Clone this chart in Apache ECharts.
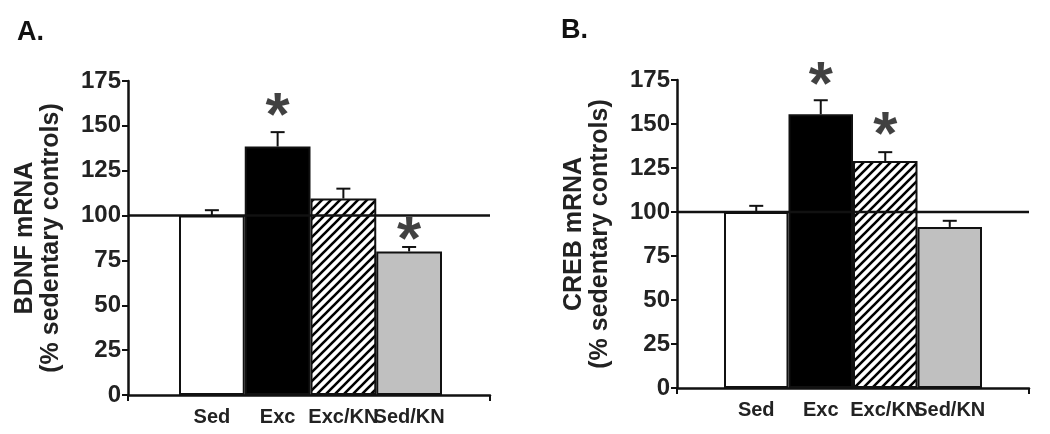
<!DOCTYPE html>
<html>
<head>
<meta charset="utf-8">
<script src="https://cdn.jsdelivr.net/npm/echarts@6/dist/echarts.min.js"></script>
<style>
  html, body { margin: 0; padding: 0; background: #fff; }
  #chart { width: 1050px; height: 434px; }
</style>
</head>
<body>
<div id="chart"></div>
<script>
// 数据
const groups = ['Sed', 'Exc', 'Exc/KN', 'Sed/KN']
const bdnfMean = [100, 138.5, 109.5, 80]
const bdnfErr = [103, 146.5, 115, 82.5]
const bdnfStar = [null, 161, null, 92]
const crebMean = [100, 155.5, 129, 91.5]
const crebErr = [103.5, 163.5, 134, 95]
const crebStar = [null, 178, 149.5, null]
const refLine = 100
const yTicks = [0, 175, 25]   // min, max, interval

const font = 'Liberation Sans, Arial, sans-serif'

// 斜线填充
function hatch() {
  const c = document.createElement('canvas')
  c.width = c.height = 9
  const g = c.getContext('2d')
  g.fillStyle = '#fff'
  g.fillRect(0, 0, 9, 9)
  g.strokeStyle = '#000'
  g.lineWidth = 2.6
  g.beginPath()
  for (const o of [-9, 0, 9]) {
    g.moveTo(o - 1, 10)
    g.lineTo(o + 10, -1)
  }
  g.stroke()
  return c
}
const fills = ['#ffffff', '#000000', { image: hatch(), repeat: 'repeat' }, '#c0c0c0']

function errRender(params, api) {
  const p0 = api.coord([api.value(0), api.value(1)])
  const p1 = api.coord([api.value(0), api.value(2)])
  const st = { stroke: '#111', lineWidth: 2 }
  return {
    type: 'group',
    children: [
      { type: 'line', shape: { x1: p0[0], y1: p0[1], x2: p1[0], y2: p1[1] }, style: st },
      { type: 'line', shape: { x1: p1[0] - 7, y1: p1[1], x2: p1[0] + 7, y2: p1[1] }, style: st }
    ]
  }
}

// 一个面板：外框网格(坐标轴) + 柱子网格
function panel(k, frame, bars, yName, mean, err, star) {
  const g0 = k * 2, g1 = k * 2 + 1
  return {
    grid: [frame, bars],
    xAxis: [
      {
        gridIndex: g0, type: 'value', min: 0, max: 1, interval: 1,
        axisLine: { show: true, onZero: false, lineStyle: { color: '#111', width: 2.5 } },
        axisTick: { show: true, length: 6, lineStyle: { color: '#111', width: 2 } },
        axisLabel: { show: false }, splitLine: { show: false }
      },
      {
        gridIndex: g1, type: 'category', data: groups,
        axisLine: { show: false }, axisTick: { show: false },
        axisLabel: { interval: 0, margin: 12, color: '#222', fontSize: 20, fontWeight: 'bold', fontFamily: font }
      }
    ],
    yAxis: [
      {
        gridIndex: g0, type: 'value', min: yTicks[0], max: yTicks[1], interval: yTicks[2],
        axisLine: { show: true, lineStyle: { color: '#111', width: 2.5 } },
        axisTick: { show: true, length: 6, lineStyle: { color: '#111', width: 2 } },
        axisLabel: { margin: 7, color: '#222', fontSize: 24, fontWeight: 'bold', fontFamily: font },
        splitLine: { show: false },
        name: yName, nameLocation: 'middle', nameRotate: 90, nameGap: 64,
        nameTextStyle: { color: '#222', fontSize: 25, fontWeight: 'bold', fontFamily: font, lineHeight: 26 }
      },
      { gridIndex: g1, type: 'value', min: yTicks[0], max: yTicks[1], show: false }
    ],
    series: [
      {
        type: 'bar', xAxisIndex: g1, yAxisIndex: g1, barCategoryGap: '0%',
        data: mean.map((v, i) => ({ value: v, itemStyle: { color: fills[i] } })),
        itemStyle: { borderColor: '#111', borderWidth: 2 }
      },
      {
        type: 'custom', xAxisIndex: g1, yAxisIndex: g1, renderItem: errRender, z: 3,
        data: mean.map((v, i) => [i, v, err[i]])
      },
      {
        type: 'line', xAxisIndex: g0, yAxisIndex: g0, z: 4, symbol: 'none',
        lineStyle: { color: '#111', width: 2.5 },
        data: [[0, refLine], [1, refLine]]
      },
      {
        type: 'scatter', xAxisIndex: g1, yAxisIndex: g1, symbolSize: 0, clip: false, z: 5,
        data: star.map((v, i) => (v == null ? null : [i, v])).filter(d => d),
        label: {
          show: true, position: 'inside', formatter: '*', offset: [0, 12],
          color: '#111', fontSize: 62, fontWeight: 'bold', fontFamily: font
        }
      }
    ]
  }
}

const a = panel(0, { left: 128, right: 560, top: 81, bottom: 39 }, { left: 179, right: 608, top: 81, bottom: 39 },
  'BDNF mRNA\n(% sedentary controls)', bdnfMean, bdnfErr, bdnfStar)
const b = panel(1, { left: 677, right: 21, top: 80, bottom: 46 }, { left: 724, right: 68, top: 80, bottom: 46 },
  'CREB mRNA\n(% sedentary controls)', crebMean, crebErr, crebStar)

const chart = echarts.init(document.getElementById('chart'))
chart.setOption({
  animation: false,
  backgroundColor: '#fff',
  title: [
    { text: 'A.', left: 12, top: 14, textStyle: { fontSize: 27, fontWeight: 'bold', fontFamily: font, color: '#111' } },
    { text: 'B.', left: 556, top: 12, textStyle: { fontSize: 27, fontWeight: 'bold', fontFamily: font, color: '#111' } }
  ],
  grid: a.grid.concat(b.grid),
  xAxis: a.xAxis.concat(b.xAxis),
  yAxis: a.yAxis.concat(b.yAxis),
  series: a.series.concat(b.series)
})
</script>
</body>
</html>
